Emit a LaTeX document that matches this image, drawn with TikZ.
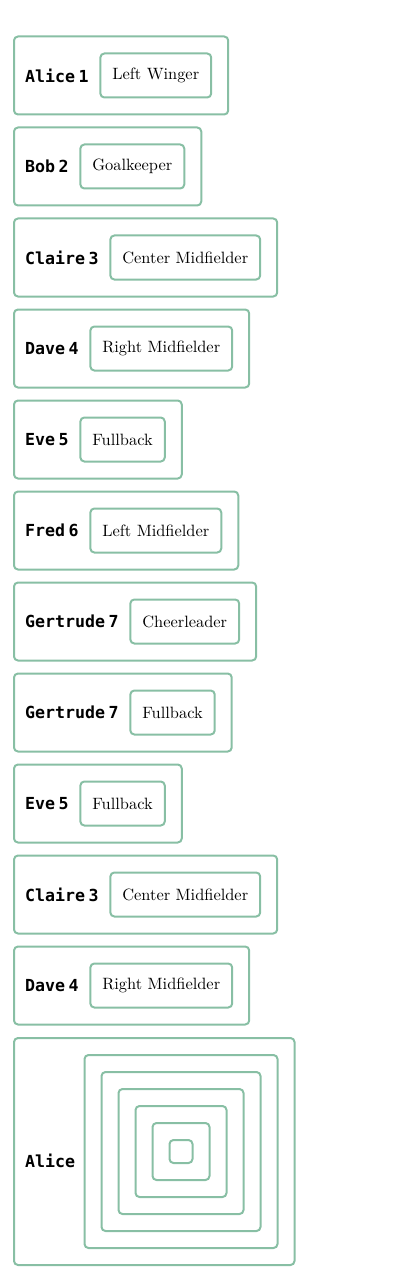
\documentclass[tikz,border=0pt]{standalone}
\usepackage{fontspec}
\usepackage{tikz}
\usetikzlibrary{positioning, fit}
\usepackage{xcolor}
\newfontfamily\namefont[WordSpace=0.35]{DejaVu Sans Mono}
\newfontfamily\rolefont[Extension=.otf]{lmroman10-regular}
\definecolor{mint}{HTML}{88BFA4}
\tikzset{
  namelbl/.style = {anchor = west, inner sep = 0pt, font = \namefont\bfseries\fontsize{16.6}{20}\selectfont},
  rolebox/.style = {draw = mint, line width = 2pt, rounded corners = 4pt, minimum height = 44pt,
                    inner xsep = 12pt, font = \rolefont\fontsize{16.4}{20}\selectfont},
  rowbox/.style  = {draw = mint, line width = 2pt, rounded corners = 4pt, inner sep = 16pt},
  sqbox/.style   = {draw = mint, line width = 2pt, rounded corners = 4pt, inner sep = 16pt}
}

\begin{document}
\begin{tikzpicture}[x = 1pt, y = -1pt, node distance = 10.5pt]
            \useasboundingbox (0,0) rectangle (400,1281);
            % rows of name and role
            \node[namelbl] (n1) at (25,75.5) {Alice 1};
            \node[rolebox, right = of n1] (r1) {Left Winger};
            \coordinate (c1) at (30,75.5);
            \node[rowbox, fit = (c1)(r1)] (row1) {};

            \node[namelbl] (n2) at (25,166.5) {Bob 2};
            \node[rolebox, right = of n2] (r2) {Goalkeeper};
            \coordinate (c2) at (30,166.5);
            \node[rowbox, fit = (c2)(r2)] (row2) {};

            \node[namelbl] (n3) at (25,257.5) {Claire 3};
            \node[rolebox, right = of n3] (r3) {Center Midfielder};
            \coordinate (c3) at (30,257.5);
            \node[rowbox, fit = (c3)(r3)] (row3) {};

            \node[namelbl] (n4) at (25,348.5) {Dave 4};
            \node[rolebox, right = of n4] (r4) {Right Midfielder};
            \coordinate (c4) at (30,348.5);
            \node[rowbox, fit = (c4)(r4)] (row4) {};

            \node[namelbl] (n5) at (25,439.5) {Eve 5};
            \node[rolebox, right = of n5] (r5) {Fullback};
            \coordinate (c5) at (30,439.5);
            \node[rowbox, fit = (c5)(r5)] (row5) {};

            \node[namelbl] (n6) at (25,530.5) {Fred 6};
            \node[rolebox, right = of n6] (r6) {Left Midfielder};
            \coordinate (c6) at (30,530.5);
            \node[rowbox, fit = (c6)(r6)] (row6) {};

            \node[namelbl] (n7) at (25,621.5) {Gertrude 7};
            \node[rolebox, right = of n7] (r7) {Cheerleader};
            \coordinate (c7) at (30,621.5);
            \node[rowbox, fit = (c7)(r7)] (row7) {};

            \node[namelbl] (n8) at (25,712.5) {Gertrude 7};
            \node[rolebox, right = of n8] (r8) {Fullback};
            \coordinate (c8) at (30,712.5);
            \node[rowbox, fit = (c8)(r8)] (row8) {};

            \node[namelbl] (n9) at (25,803.5) {Eve 5};
            \node[rolebox, right = of n9] (r9) {Fullback};
            \coordinate (c9) at (30,803.5);
            \node[rowbox, fit = (c9)(r9)] (row9) {};

            \node[namelbl] (n10) at (25,894.5) {Claire 3};
            \node[rolebox, right = of n10] (r10) {Center Midfielder};
            \coordinate (c10) at (30,894.5);
            \node[rowbox, fit = (c10)(r10)] (row10) {};

            \node[namelbl] (n11) at (25,985.5) {Dave 4};
            \node[rolebox, right = of n11] (r11) {Right Midfielder};
            \coordinate (c11) at (30,985.5);
            \node[rowbox, fit = (c11)(r11)] (row11) {};

            % last row with nested squares
            \node[namelbl] (n12) at (25,1161) {Alice};
            \node[sqbox, minimum size = 23pt, inner sep = 0pt] (s0) at (181,1151.5) {};
            \node[sqbox, fit = (s0)] (s1) {};
            \node[sqbox, fit = (s1)] (s2) {};
            \node[sqbox, fit = (s2)] (s3) {};
            \node[sqbox, fit = (s3)] (s4) {};
            \node[sqbox, fit = (s4)] (s5) {};
            \coordinate (c12) at (30,1151.5);
            \node[rowbox, fit = (c12)(s5)] (row12) {};
        \end{tikzpicture}
\end{document}
